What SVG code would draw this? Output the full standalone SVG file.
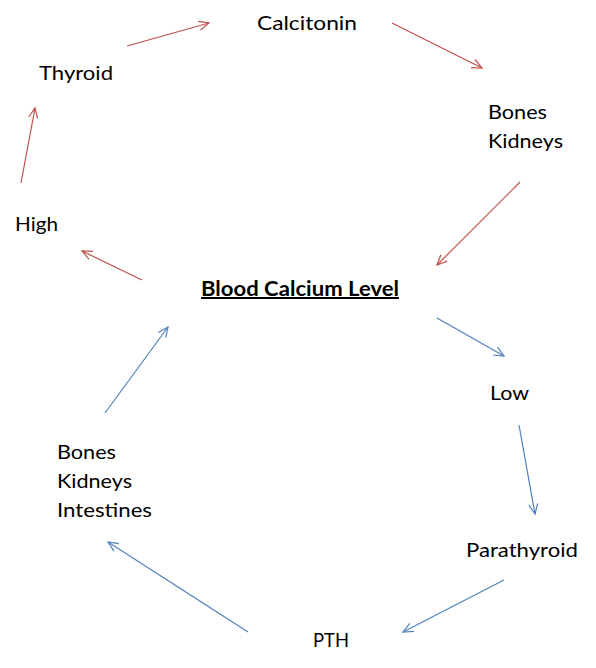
<svg xmlns="http://www.w3.org/2000/svg" width="596" height="668" viewBox="0 0 596 668">
<style>
text{font-family:Lato,"Open Sans","Liberation Sans",sans-serif;font-size:20px;fill:#000}
.b{font-weight:bold;text-decoration:underline}
.r{stroke:#C0504D;stroke-width:1.2;fill:none}
.u{stroke:#4F81BD;stroke-width:1.2;fill:none}
</style>
<defs>
<marker id="ar" markerUnits="userSpaceOnUse" markerWidth="14" markerHeight="14" refX="11" refY="6" orient="auto" viewBox="0 0 14 12">
<path d="M1,1.5 L11,6 L1,10.5" fill="none" stroke="#C0504D" stroke-width="1.2"/>
</marker>
<marker id="au" markerUnits="userSpaceOnUse" markerWidth="14" markerHeight="14" refX="11" refY="6" orient="auto" viewBox="0 0 14 12">
<path d="M1,1.5 L11,6 L1,10.5" fill="none" stroke="#4F81BD" stroke-width="1.2"/>
</marker>
</defs>
<rect width="596" height="668" fill="#fff"/>
<g id="connectors">
<line class="r" x1="127" y1="46" x2="209" y2="23" marker-end="url(#ar)"/>
<line class="r" x1="392" y1="23" x2="482" y2="68" marker-end="url(#ar)"/>
<line class="r" x1="520" y1="182" x2="437" y2="265" marker-end="url(#ar)"/>
<line class="r" x1="142" y1="280" x2="82" y2="251" marker-end="url(#ar)"/>
<line class="r" x1="21" y1="183" x2="35" y2="108" marker-end="url(#ar)"/>
<line class="u" x1="437" y1="318" x2="504" y2="356" marker-end="url(#au)"/>
<line class="u" x1="519" y1="425" x2="535" y2="514" marker-end="url(#au)"/>
<line class="u" x1="504" y1="580" x2="403" y2="632" marker-end="url(#au)"/>
<line class="u" x1="248" y1="632" x2="108" y2="542" marker-end="url(#au)"/>
<line class="u" x1="105" y1="413" x2="168" y2="327" marker-end="url(#au)"/>
</g>
<g id="calcitonin"><text x="257" y="30" textLength="100" lengthAdjust="spacingAndGlyphs">Calcitonin</text></g>
<g id="thyroid"><text x="39" y="80" textLength="74" lengthAdjust="spacingAndGlyphs">Thyroid</text></g>
<g id="high"><text x="15" y="231" textLength="43" lengthAdjust="spacingAndGlyphs">High</text></g>
<g id="bones-kidneys"><text x="488" y="119" textLength="59" lengthAdjust="spacingAndGlyphs">Bones</text><text x="488" y="148" textLength="75" lengthAdjust="spacingAndGlyphs">Kidneys</text></g>
<g id="blood-calcium"><text class="b" x="201" y="296" textLength="198" lengthAdjust="spacingAndGlyphs">Blood Calcium Level</text></g>
<g id="low"><text x="490" y="400" textLength="39" lengthAdjust="spacingAndGlyphs">Low</text></g>
<g id="parathyroid"><text x="466" y="557" textLength="112" lengthAdjust="spacingAndGlyphs">Parathyroid</text></g>
<g id="pth"><text x="313" y="647" textLength="36" lengthAdjust="spacingAndGlyphs">PTH</text></g>
<g id="bones-kidneys-intestines"><text x="57" y="459" textLength="59" lengthAdjust="spacingAndGlyphs">Bones</text><text x="57" y="488" textLength="75" lengthAdjust="spacingAndGlyphs">Kidneys</text><text x="57" y="517" textLength="95" lengthAdjust="spacingAndGlyphs">Intestines</text></g>
</svg>
